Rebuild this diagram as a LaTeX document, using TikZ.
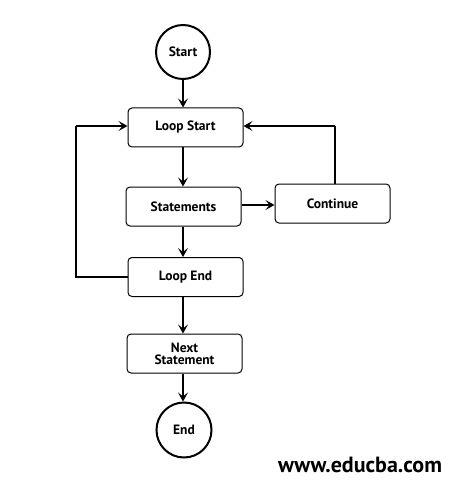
\documentclass[tikz,border=0pt]{standalone}
\usepackage{fontspec}
\setmainfont{PT Sans}
\usetikzlibrary{arrows.meta}
\begin{document}
\begin{tikzpicture}[x=1pt,y=-1pt,
  box/.style={draw,line width=1pt,rounded corners=4pt,minimum width=115pt,minimum height=39pt,font=\bfseries\fontsize{13.5}{13}\selectfont,align=center,inner sep=1pt},
  term/.style={draw,circle,line width=2pt,minimum size=54pt,font=\bfseries\fontsize{13.5}{13}\selectfont,inner sep=0pt},
  arr/.style={line width=2.2pt,-{Stealth[length=9pt,width=10pt,inset=4pt]}},
  ln/.style={line width=2.2pt}]
\useasboundingbox (0,0) rectangle (460,481);
\node[term] (start) at (183,52) {Start};
\node[box] (ls) at (185.5,127.5) {Loop Start};
\node[box] (st) at (183.5,206.5) {Statements};
\node[box] (co) at (332.5,203.5) {Continue};
\node[box] (le) at (185.5,277) {Loop End};
\node[box] (ns) at (184.5,353.5) {Next\\[-1pt]Statement};
\node[term,minimum size=55pt] (en) at (184,430) {End};
\node[font=\bfseries\fontsize{22}{24}\selectfont] (web) at (360,465) {www.educba.com};
\coordinate (l1) at (76,277);
\coordinate (l2) at (76,126);
\coordinate (c1) at (335,126);
\draw[arr] (start) -- (start |- ls.north);
\draw[arr] (ls.south -| 183,0) -- (st.north -| 183,0);
\draw[arr] (st.east |- 0,205) -- (co.west |- 0,205);
\draw[arr] (st.south -| 183,0) -- (le.north -| 183,0);
\draw[arr] (le.south -| 183,0) -- (ns.north -| 183,0);
\draw[arr] (ns.south -| 183,0) -- (en.north -| 183,0);
\draw[ln] (le.west) -- (l1) -- (l2);
\draw[arr] (l2) -- (ls.west |- l2);
\draw[ln] (co.north -| c1) -- (c1);
\draw[arr] (c1) -- (ls.east |- c1);
\end{tikzpicture}
\end{document}
